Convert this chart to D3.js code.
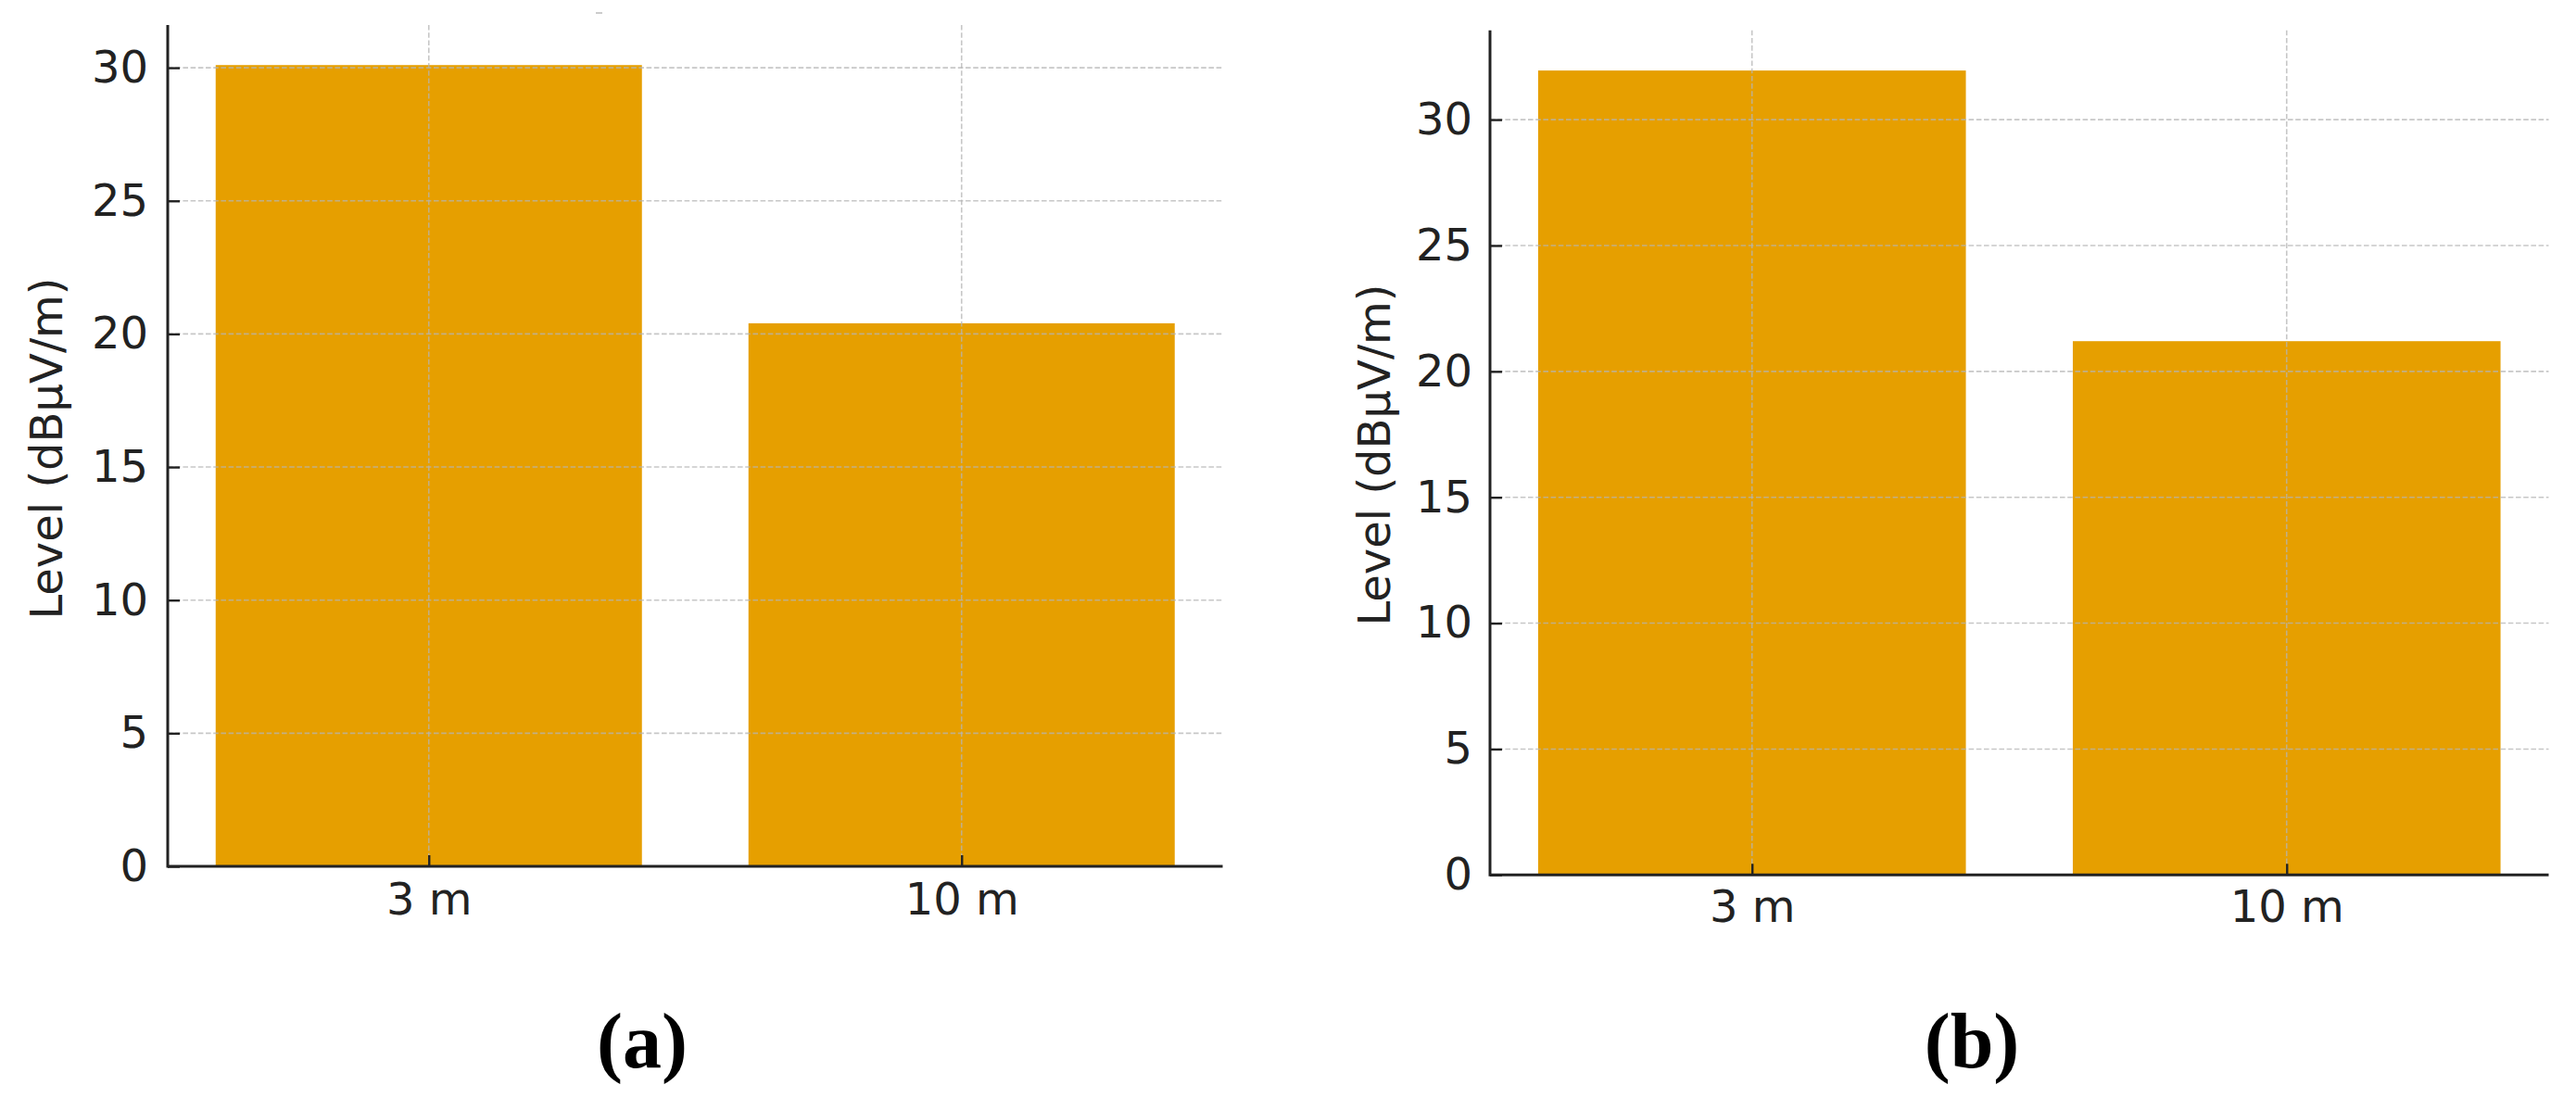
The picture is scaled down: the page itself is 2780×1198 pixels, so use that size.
<!DOCTYPE html>
<html>
<head>
<meta charset="utf-8">
<script src="https://cdn.jsdelivr.net/npm/d3@7/dist/d3.min.js"></script>
<style>
  html, body { margin: 0; padding: 0; background: #ffffff; }
  svg { display: block; }
</style>
</head>
<body>
<svg id="chart" width="2780" height="1198"></svg>
<script>
// ---- data ----
const categories = ["3 m", "10 m"];
const valuesA = [30.1, 20.4];
const valuesB = [31.95, 21.2];
const yTicks = [0, 5, 10, 15, 20, 25, 30];
const yLabel = "Level (dBµV/m)";
const panelLabels = ["(a)", "(b)"];

// ---- layout ----
const panels = [
  { values: valuesA, left: 181, right: 1319.5, top: 27, bottom: 935,
    labelX: 67, labelY: 484, tagX: 693, tagY: 1152, yPad: 21, xPad: 18 },
  { values: valuesB, left: 1608, right: 2750.5, top: 32.7, bottom: 944.3,
    labelX: 1500, labelY: 491, tagX: 2128, tagY: 1152, yPad: 19, xPad: 17 }
];

const svg = d3.select("#chart");
const barColor = "#E69F00";
const inkColor = "#222222";
const fontFamily = "'DejaVu Sans', sans-serif";

panels.forEach((p, pi) => {
  const g = svg.append("g");
  const idx = categories.map((c, i) => i);
  const x = d3.scaleLinear().domain([-0.49, 1.49]).range([p.left, p.right]);
  const y = d3.scaleLinear().domain([0, d3.max(p.values) * 1.05]).range([p.bottom, p.top]);

  // bars
  g.selectAll("rect.bar").data(p.values).join("rect")
    .attr("class", "bar")
    .attr("x", (d, i) => x(i - 0.4))
    .attr("width", x(0.8) - x(0))
    .attr("y", d => y(d))
    .attr("height", d => y(0) - y(d))
    .attr("fill", barColor);

  // grid (drawn above bars)
  const grid = g.append("g").attr("stroke", "#b4b4b4").attr("stroke-opacity", 0.75)
    .attr("stroke-width", 1.6).attr("stroke-dasharray", "5.6,2.6").attr("fill", "none");
  grid.selectAll("line.h").data(yTicks.filter(t => t > 0)).join("line")
    .attr("class", "h")
    .attr("x1", p.left).attr("x2", p.right)
    .attr("y1", d => y(d)).attr("y2", d => y(d));
  grid.selectAll("line.v").data(idx).join("line")
    .attr("class", "v")
    .attr("x1", d => x(d)).attr("x2", d => x(d))
    .attr("y1", p.top).attr("y2", p.bottom);

  // y axis
  const yAxis = g.append("g")
    .attr("transform", `translate(${p.left},0)`)
    .call(d3.axisLeft(y).tickValues(yTicks).tickFormat(d3.format("d"))
      .tickSizeInner(-13).tickSizeOuter(0).tickPadding(p.yPad));
  // x axis
  const xAxis = g.append("g")
    .attr("transform", `translate(0,${p.bottom})`)
    .call(d3.axisBottom(x).tickValues(idx).tickFormat(i => categories[i])
      .tickSizeInner(-12).tickSizeOuter(0).tickPadding(p.xPad));

  [yAxis, xAxis].forEach(ax => {
    ax.select(".domain").attr("stroke", inkColor).attr("stroke-width", 3);
    ax.selectAll(".tick line").attr("stroke", inkColor).attr("stroke-width", 2.4);
    ax.selectAll(".tick text").attr("fill", inkColor)
      .attr("font-family", fontFamily).attr("font-size", 48);
  });
  // x axis domain starts at the y axis
  xAxis.select(".domain").attr("d", `M${p.left},0H${p.right}`);
  yAxis.select(".domain").attr("d", `M0,${p.top}V${p.bottom + 1.5}`);

  // y axis label
  g.append("text")
    .attr("transform", `translate(${p.labelX},${p.labelY}) rotate(-90)`)
    .attr("text-anchor", "middle")
    .attr("font-family", fontFamily).attr("font-size", 48)
    .attr("fill", inkColor)
    .text(yLabel);

  // panel tag
  g.append("text")
    .attr("x", p.tagX).attr("y", p.tagY)
    .attr("text-anchor", "middle")
    .attr("font-family", "'Liberation Serif', 'Times New Roman', serif")
    .attr("font-weight", "bold").attr("font-size", 84)
    .attr("fill", "#000")
    .text(panelLabels[pi]);
});

// tiny artifact mark at top of panel (a)
svg.append("line").attr("x1", 643).attr("x2", 650).attr("y1", 14).attr("y2", 14)
  .attr("stroke", "#bbbbbb").attr("stroke-width", 1.5);
</script>
</body>
</html>
